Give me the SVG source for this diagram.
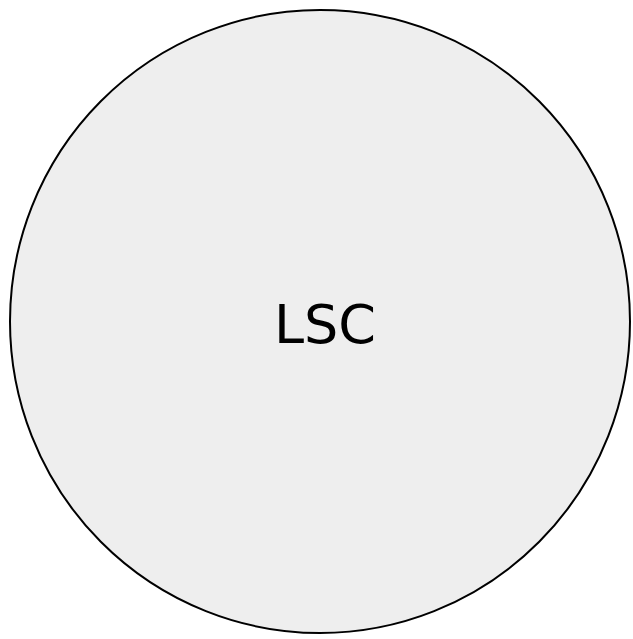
<svg xmlns="http://www.w3.org/2000/svg" width="633" height="639" viewBox="0 0 633 639">
<style>
.node{fill:#eeeeee;stroke:#000000;stroke-width:2}
.label{font-family:"DejaVu Sans",Verdana,sans-serif;font-size:54px;fill:#000000;text-anchor:middle}
</style>
<rect width="633" height="639" fill="#ffffff"/>
<g id="connectors"></g>
<g id="node-lsc">
<ellipse class="node" cx="320" cy="321.5" rx="310" ry="311.5"/>
<text class="label" x="325" y="343">LSC</text>
</g>
</svg>
